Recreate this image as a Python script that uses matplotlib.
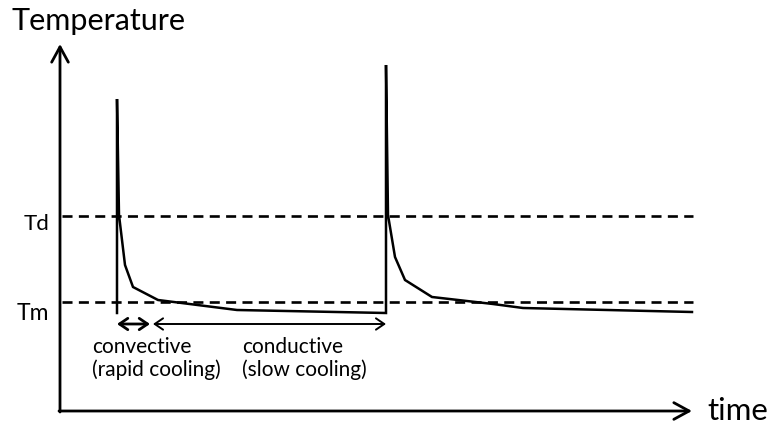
import matplotlib
matplotlib.use("Agg")
import matplotlib.pyplot as plt

# schematic temperature history (arbitrary units)
time = [57, 57, 59, 65, 73, 98, 177, 326, 326, 328, 335, 345, 372, 433, 463, 632]
temp = [98, 312, 196, 146, 124, 111, 101, 98, 346, 196, 154, 131, 114, 107, 103, 99]

t_d = 195
t_m = 109
levels = [t_d, t_m]
level_labels = ["Td", "Tm"]

t_end = 633
y_axis_top = 367
x_axis_end = 632

convective_span = (57, 90)
conductive_span = (93, 326)
span_level = 87

plt.rcParams["font.family"] = ["Lato", "DejaVu Sans"]

fig = plt.figure(figsize=(7.68, 4.29), dpi=100)
ax = fig.add_axes([0, 0, 1, 1])
ax.set_xlim(-60, 708)
ax.set_ylim(-18, 411)
ax.axis("off")

# axes with arrow heads
axis_style = dict(arrowstyle="->, head_length=0.55, head_width=0.3", lw=2.0,
                  color="black", shrinkA=0, shrinkB=0, mutation_scale=20)
ax.annotate("", xy=(0, y_axis_top), xytext=(0, -1), arrowprops=axis_style)
ax.annotate("", xy=(x_axis_end, 0), xytext=(-1, 0), arrowprops=axis_style)

# reference levels
for lvl in levels:
    ax.plot([2, t_end], [lvl, lvl], color="black", lw=1.9, dashes=(3.8, 2.4))

ax.plot(time, temp, color="black", lw=1.8, solid_joinstyle="miter")

# cooling phase spans
ax.annotate("", xy=(convective_span[1], span_level), xytext=(convective_span[0], span_level),
            arrowprops=dict(arrowstyle="<->, head_length=0.5, head_width=0.34", lw=2.0,
                            color="black", shrinkA=0, shrinkB=0, mutation_scale=12))
ax.annotate("", xy=(conductive_span[1], span_level), xytext=(conductive_span[0], span_level),
            arrowprops=dict(arrowstyle="<->, head_length=0.5, head_width=0.34", lw=1.4,
                            color="black", shrinkA=0, shrinkB=0, mutation_scale=12))

# labels
ax.text(-48, 381, "Temperature", fontsize=22, ha="left", va="baseline")
ax.text(647, -9, "time", fontsize=22.5, ha="left", va="baseline")
ax.text(-36, 181, level_labels[0], fontsize=16, ha="left", va="baseline")
ax.text(-43, 91, level_labels[1], fontsize=16.5, ha="left", va="baseline")

ax.text(32, 58, "convective", fontsize=15, ha="left", va="baseline")
ax.text(32, 35, "(rapid cooling)", fontsize=15, ha="left", va="baseline")
ax.text(182, 58, "conductive", fontsize=15, ha="left", va="baseline")
ax.text(182, 35, "(slow cooling)", fontsize=15, ha="left", va="baseline")

fig.savefig("out.png", dpi=100)
